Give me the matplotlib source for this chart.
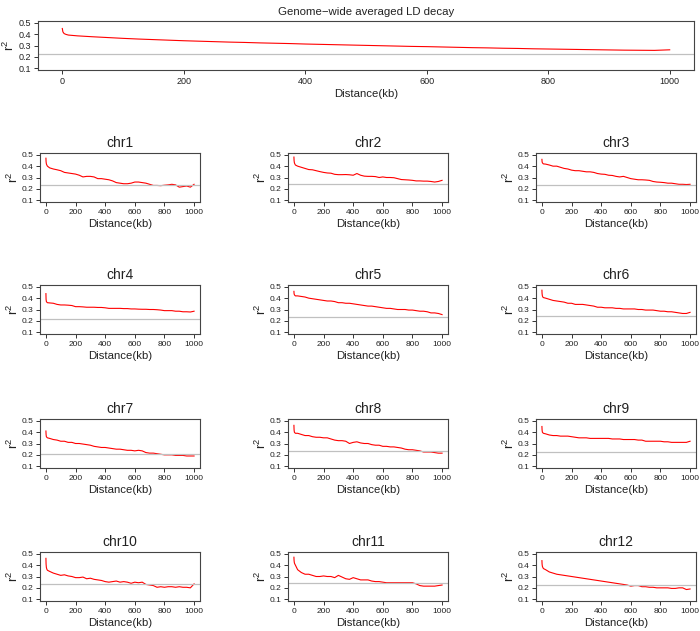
import matplotlib
matplotlib.use("Agg")
import matplotlib.pyplot as plt

plt.rcParams['font.family'] = ['Liberation Sans', 'DejaVu Sans']
plt.rcParams['mathtext.default'] = 'regular'

dist = [0, 1, 3, 6, 10, 25, 50, 75, 100, 125, 150, 175, 200, 225, 250, 275, 300, 325, 350, 375,
        400, 425, 450, 475, 500, 525, 550, 575, 600, 625, 650, 675, 700, 725, 750, 775, 800, 825,
        850, 875, 900, 925, 950, 975, 1000]

genome = [0.45, 0.42, 0.405, 0.398, 0.392, 0.385, 0.377, 0.370, 0.363, 0.357, 0.352, 0.347, 0.342,
          0.338, 0.334, 0.330, 0.327, 0.323, 0.320, 0.317, 0.313, 0.310, 0.307, 0.304, 0.301, 0.298,
          0.295, 0.292, 0.290, 0.287, 0.284, 0.281, 0.279, 0.276, 0.274, 0.271, 0.269, 0.267, 0.265,
          0.263, 0.261, 0.259, 0.258, 0.257, 0.262]

chr1 = [0.47, 0.44, 0.42, 0.41, 0.40, 0.385, 0.375, 0.368, 0.36, 0.345, 0.34, 0.335, 0.33, 0.32, 0.305,
        0.31, 0.31, 0.305, 0.29, 0.29, 0.285, 0.28, 0.27, 0.255, 0.25, 0.245, 0.245, 0.25, 0.26, 0.26,
        0.255, 0.25, 0.24, 0.23, 0.23, 0.228, 0.232, 0.235, 0.24, 0.235, 0.215, 0.22, 0.225, 0.215, 0.24]
chr2 = [0.48, 0.45, 0.43, 0.42, 0.41, 0.40, 0.39, 0.38, 0.37, 0.368, 0.36, 0.352, 0.345, 0.34, 0.338,
        0.328, 0.325, 0.325, 0.326, 0.324, 0.32, 0.335, 0.32, 0.312, 0.31, 0.31, 0.308, 0.30, 0.305, 0.30,
        0.30, 0.298, 0.29, 0.282, 0.28, 0.278, 0.275, 0.27, 0.27, 0.268, 0.268, 0.265, 0.26, 0.265, 0.275]
chr3 = [0.46, 0.44, 0.43, 0.425, 0.42, 0.418, 0.41, 0.40, 0.40, 0.39, 0.38, 0.375, 0.365, 0.36, 0.36,
        0.355, 0.35, 0.35, 0.345, 0.335, 0.33, 0.328, 0.32, 0.318, 0.31, 0.305, 0.31, 0.30, 0.29, 0.285,
        0.28, 0.28, 0.278, 0.275, 0.265, 0.26, 0.258, 0.255, 0.25, 0.25, 0.245, 0.24, 0.24, 0.238, 0.24]
chr4 = [0.44, 0.39, 0.37, 0.365, 0.36, 0.358, 0.355, 0.345, 0.34, 0.34, 0.338, 0.335, 0.325, 0.325, 0.323,
        0.32, 0.32, 0.32, 0.318, 0.318, 0.315, 0.31, 0.31, 0.31, 0.31, 0.308, 0.308, 0.305, 0.305, 0.303,
        0.302, 0.302, 0.30, 0.30, 0.298, 0.295, 0.29, 0.29, 0.29, 0.285, 0.285, 0.28, 0.28, 0.278, 0.285]
chr5 = [0.46, 0.44, 0.43, 0.425, 0.42, 0.42, 0.415, 0.41, 0.40, 0.395, 0.39, 0.385, 0.38, 0.375, 0.375,
        0.37, 0.36, 0.36, 0.355, 0.355, 0.35, 0.345, 0.34, 0.335, 0.33, 0.33, 0.325, 0.32, 0.315, 0.31,
        0.31, 0.305, 0.30, 0.30, 0.30, 0.295, 0.295, 0.29, 0.285, 0.285, 0.28, 0.27, 0.27, 0.265, 0.255]
chr6 = [0.47, 0.44, 0.42, 0.41, 0.405, 0.40, 0.39, 0.38, 0.375, 0.37, 0.365, 0.355, 0.355, 0.345, 0.345,
        0.345, 0.34, 0.335, 0.33, 0.32, 0.32, 0.315, 0.315, 0.315, 0.31, 0.31, 0.305, 0.305, 0.305, 0.305,
        0.30, 0.30, 0.295, 0.295, 0.295, 0.29, 0.285, 0.285, 0.28, 0.28, 0.275, 0.27, 0.265, 0.265, 0.275]
chr7 = [0.41, 0.38, 0.36, 0.355, 0.35, 0.345, 0.335, 0.33, 0.32, 0.32, 0.31, 0.31, 0.30, 0.30, 0.295,
        0.29, 0.285, 0.275, 0.27, 0.265, 0.265, 0.26, 0.255, 0.25, 0.25, 0.245, 0.24, 0.24, 0.235, 0.24,
        0.235, 0.22, 0.215, 0.215, 0.21, 0.205, 0.20, 0.20, 0.20, 0.195, 0.195, 0.195, 0.19, 0.19, 0.19]
chr8 = [0.46, 0.42, 0.40, 0.395, 0.39, 0.39, 0.38, 0.37, 0.37, 0.36, 0.355, 0.355, 0.35, 0.35, 0.34,
        0.33, 0.325, 0.325, 0.32, 0.30, 0.31, 0.315, 0.305, 0.30, 0.30, 0.29, 0.285, 0.285, 0.275, 0.275,
        0.27, 0.27, 0.265, 0.26, 0.25, 0.245, 0.245, 0.24, 0.235, 0.225, 0.225, 0.225, 0.22, 0.215, 0.215]
chr9 = [0.45, 0.42, 0.40, 0.395, 0.39, 0.385, 0.375, 0.37, 0.37, 0.365, 0.365, 0.365, 0.36, 0.355, 0.35,
        0.35, 0.35, 0.345, 0.345, 0.345, 0.345, 0.345, 0.345, 0.34, 0.34, 0.34, 0.335, 0.335, 0.335, 0.335,
        0.33, 0.33, 0.32, 0.32, 0.32, 0.32, 0.32, 0.315, 0.315, 0.31, 0.31, 0.31, 0.31, 0.31, 0.32]
chr10 = [0.46, 0.41, 0.38, 0.365, 0.355, 0.345, 0.33, 0.32, 0.31, 0.315, 0.305, 0.30, 0.29, 0.29, 0.295,
         0.28, 0.285, 0.275, 0.27, 0.265, 0.255, 0.25, 0.255, 0.26, 0.25, 0.255, 0.25, 0.24, 0.25, 0.245,
         0.25, 0.23, 0.225, 0.22, 0.205, 0.21, 0.205, 0.21, 0.21, 0.205, 0.21, 0.205, 0.205, 0.20, 0.235]
chr11 = [0.47, 0.44, 0.42, 0.41, 0.40, 0.36, 0.335, 0.32, 0.32, 0.31, 0.30, 0.30, 0.305, 0.30, 0.30,
         0.29, 0.31, 0.295, 0.28, 0.275, 0.29, 0.28, 0.27, 0.27, 0.27, 0.26, 0.255, 0.255, 0.25, 0.245,
         0.245, 0.245, 0.245, 0.245, 0.245, 0.245, 0.245, 0.235, 0.22, 0.215, 0.215, 0.215, 0.215, 0.22, 0.225]
chr12 = [0.44, 0.41, 0.39, 0.38, 0.37, 0.36, 0.34, 0.33, 0.32, 0.315, 0.31, 0.305, 0.30, 0.295, 0.29,
         0.285, 0.28, 0.275, 0.27, 0.265, 0.26, 0.255, 0.25, 0.245, 0.24, 0.235, 0.23, 0.225, 0.215, 0.22,
         0.22, 0.21, 0.21, 0.205, 0.205, 0.20, 0.20, 0.20, 0.20, 0.195, 0.195, 0.20, 0.20, 0.185, 0.19]

chrom_names = ["chr1", "chr2", "chr3", "chr4", "chr5", "chr6", "chr7", "chr8", "chr9", "chr10", "chr11", "chr12"]
chrom_values = [chr1, chr2, chr3, chr4, chr5, chr6, chr7, chr8, chr9, chr10, chr11, chr12]
genome_threshold = 0.225
chrom_thresholds = [0.233, 0.242, 0.233, 0.218, 0.232, 0.241, 0.204, 0.230, 0.227, 0.233, 0.242, 0.225]

y_ticks = [0.1, 0.2, 0.3, 0.4, 0.5]
x_ticks = [0, 200, 400, 600, 800, 1000]

W, H = 700, 631
fig = plt.figure(figsize=(7.0, 6.31), dpi=100)


def px_axes(left, top, right, bottom):
    return fig.add_axes([left / W, 1 - bottom / H, (right - left) / W, (bottom - top) / H])


def style(ax, vals, thr, title, tick_fs, lab_fs, title_fs, ylab_pad):
    ax.plot(dist, vals, color='#ff0000', lw=0.8)
    ax.axhline(thr, color='#c0c0c0', lw=0.9)
    ax.set_xlim(-40, 1040)
    ax.set_ylim(0.084, 0.516)
    ax.set_yticks(y_ticks)
    ax.set_yticklabels([f"{v:.1f}" for v in y_ticks])
    ax.set_xticks(x_ticks)
    ax.set_xticklabels([str(v) for v in x_ticks])
    ax.tick_params(axis='both', direction='out', length=3, width=0.7, labelsize=tick_fs,
                   color='#333333', labelcolor='#222222', pad=2)
    for s in ax.spines.values():
        s.set_linewidth(0.8)
        s.set_color('#444444')
    ax.set_xlabel("Distance(kb)", fontsize=lab_fs, labelpad=2, color='#222222')
    ax.set_ylabel("r$^{2}$", fontsize=9.5, labelpad=ylab_pad, color='#222222')
    ax.set_title(title, fontsize=title_fs, pad=4, color='#222222')


ax0 = px_axes(38, 21, 694, 70)
style(ax0, genome, genome_threshold, "Genome\u2212wide averaged LD decay", 6.5, 8.2, 8.2, 1)

lefts = [40, 288, 536]
tops = [153, 285, 419, 552]
for i, (name, vals, thr) in enumerate(zip(chrom_names, chrom_values, chrom_thresholds)):
    r, c = divmod(i, 3)
    ax = px_axes(lefts[c], tops[r], lefts[c] + 160, tops[r] + 49)
    style(ax, vals, thr, name, 6, 8.2, 10, 0)

fig.savefig("out.png", dpi=100)
